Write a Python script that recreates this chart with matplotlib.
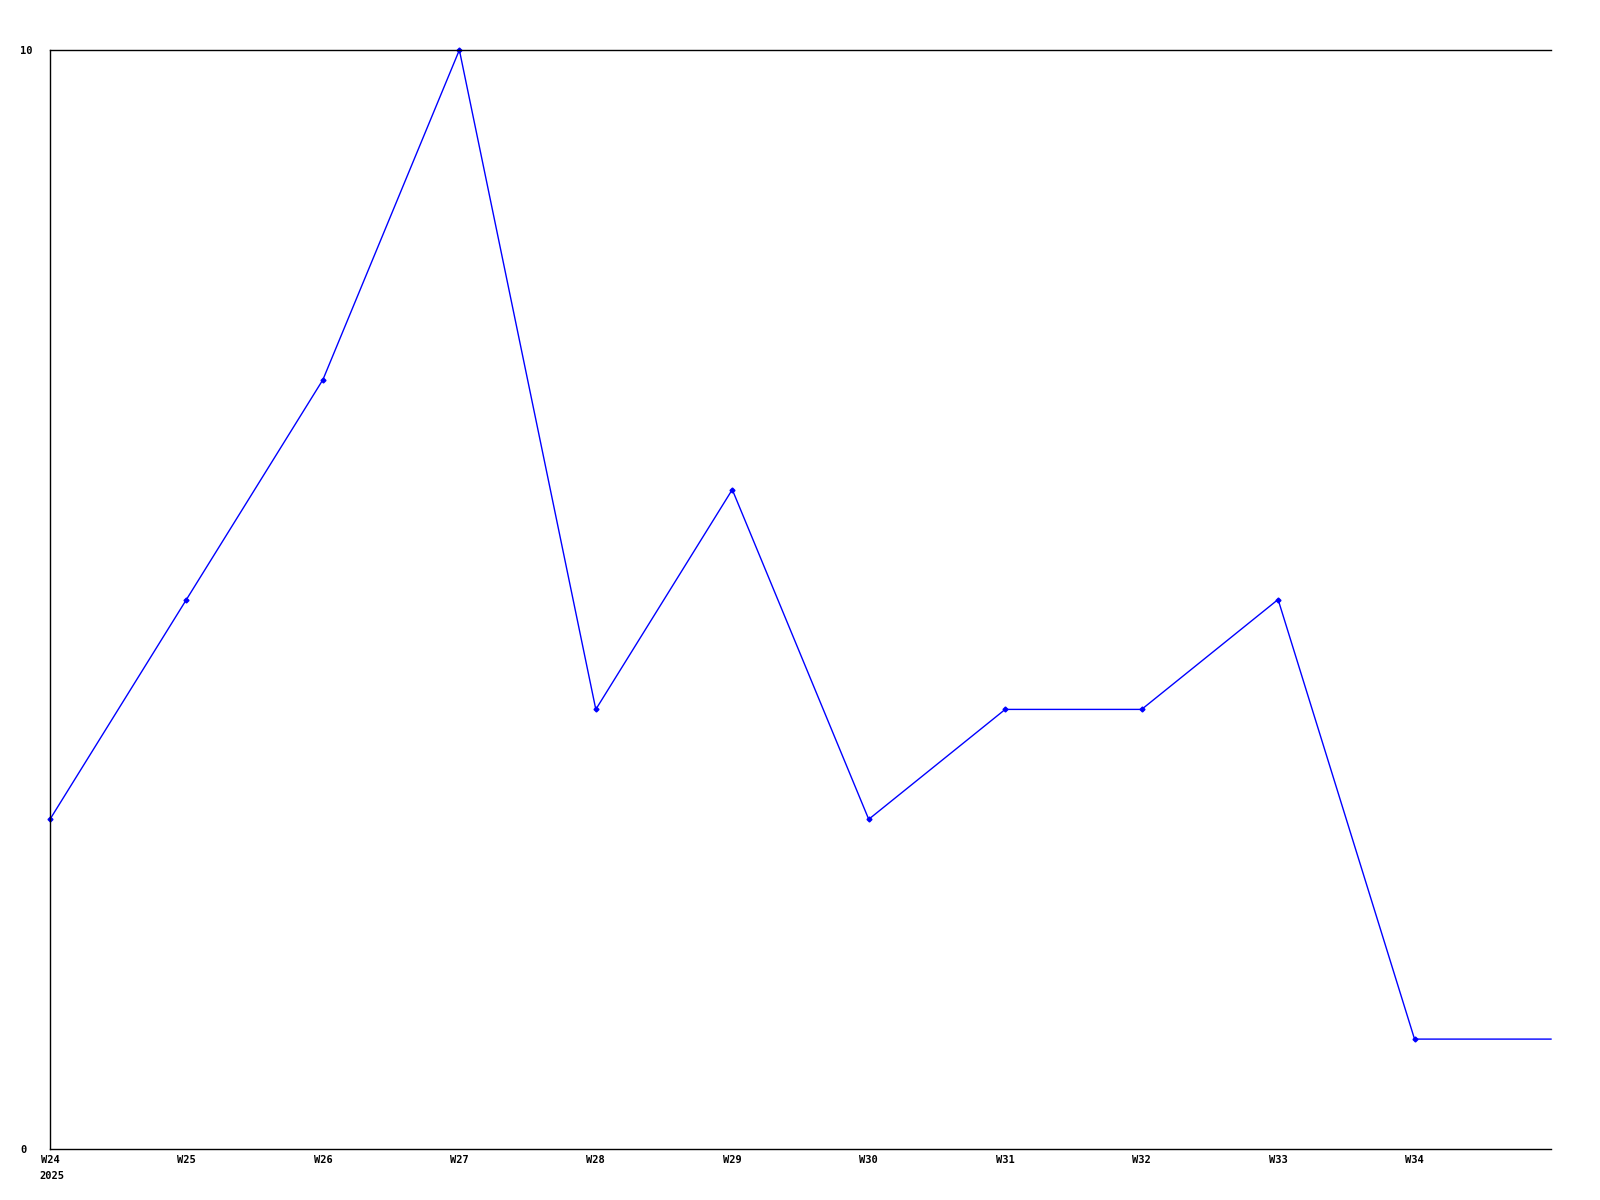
import matplotlib
matplotlib.use("Agg")
import matplotlib.pyplot as plt

weeks = ["W24", "W25", "W26", "W27", "W28", "W29", "W30", "W31", "W32", "W33", "W34", "W35"]
values = [3, 5, 7, 10, 4, 6, 3, 4, 4, 5, 1, 1]
year = "2025"

fig = plt.figure(figsize=(16, 12), dpi=100)
ax = fig.add_axes([50/1600, 1 - 1149/1200, 1501/1600, 1099/1200])

x = list(range(len(weeks)))
ax.plot(x, values, color="#0000ff", linewidth=1.0, marker="D", markersize=2.5,
        markevery=list(range(len(weeks) - 1)), clip_on=False)

ax.set_xlim(0, len(weeks) - 1)
ax.set_ylim(0, 10)

ax.set_xticks(x[:-1])
ax.set_xticklabels(weeks[:-1])
ax.set_yticks([0, 10])
ax.set_yticklabels(["0", "10"])
ax.tick_params(length=0, labelsize=7.5)
ax.tick_params(axis="x", pad=4)
ax.tick_params(axis="y", pad=21.5)
for lbl in ax.get_xticklabels() + ax.get_yticklabels():
    lbl.set_fontfamily("DejaVu Sans Mono")
    lbl.set_fontweight("bold")
for lbl in ax.get_yticklabels():
    lbl.set_horizontalalignment("left")

ax.annotate(year, xy=(0, 0), xycoords=ax.get_xaxis_transform(),
            xytext=(-8, -16), textcoords="offset points", ha="left", va="top",
            fontsize=7.5, fontfamily="DejaVu Sans Mono", fontweight="bold")

ax.spines["right"].set_visible(False)
for s in ["left", "bottom", "top"]:
    ax.spines[s].set_linewidth(1.0)
    ax.spines[s].set_color("black")

fig.savefig("out.png", dpi=100, facecolor="white")
